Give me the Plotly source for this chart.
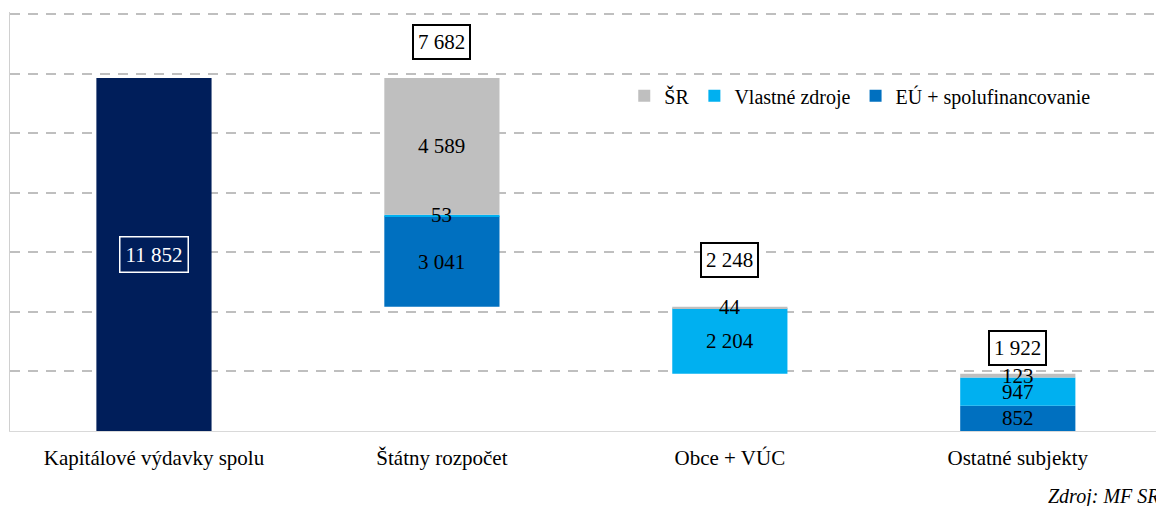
import plotly.graph_objects as go

# ---- data ----
categories = ["Kapitálové výdavky spolu", "Štátny rozpočet", "Obce + VÚC", "Ostatné subjekty"]
spolu = [11852, 0, 0, 0]          # Kapitálové výdavky spolu
eu = [0, 3041, 0, 852]            # EÚ + spolufinancovanie
vlastne = [0, 53, 2204, 947]      # Vlastné zdroje
sr = [0, 4589, 44, 123]           # ŠR
totals = [11852, 7682, 2248, 1922]

# ---- style ----
FONT = "Liberation Serif"
C_NAVY = "#001E5A"
C_SR = "#BFBFBF"
C_VL = "#00B0F0"
C_EU = "#0070C0"
NUM_SIZE = 21
total_yshift = [None, 36, 47, 26]   # px offsets of boxed totals above bar tops

def fmt(v):
    return f"{v:,}".replace(",", " ")

# waterfall bases
bases = [0]
running = totals[0]
for t in totals[1:]:
    running -= t
    bases.append(running)

base_eu = bases
base_vl = [b + e for b, e in zip(base_eu, eu)]
base_sr = [b + v for b, v in zip(base_vl, vlastne)]

fig = go.Figure()
fig.add_trace(go.Bar(x=categories, y=spolu, marker_color=C_NAVY, showlegend=False,
                     name="Kapitálové výdavky spolu", marker_line_width=0))
fig.add_trace(go.Bar(x=categories, y=eu, base=base_eu, marker_color=C_EU,
                     name="EÚ + spolufinancovanie", legendrank=3, marker_line_width=0))
fig.add_trace(go.Bar(x=categories, y=vlastne, base=base_vl, marker_color=C_VL,
                     name="Vlastné zdroje", legendrank=2, marker_line_width=0))
fig.add_trace(go.Bar(x=categories, y=sr, base=base_sr, marker_color=C_SR,
                     name="ŠR", legendrank=1, marker_line_width=0))

annotations = []
# segment labels
for vals, bs in ((eu, base_eu), (vlastne, base_vl), (sr, base_sr)):
    for c, v, b in zip(categories, vals, bs):
        if v:
            annotations.append(dict(x=c, y=b + v / 2, text=fmt(v), showarrow=False,
                                    font=dict(family=FONT, size=NUM_SIZE, color="black")))
# total of first bar (inside, white box)
annotations.append(dict(x=categories[0], y=spolu[0] / 2, text=fmt(totals[0]), showarrow=False,
                        font=dict(family=FONT, size=NUM_SIZE, color="white"),
                        bordercolor="white", borderwidth=1.5, borderpad=5))
# boxed totals above the other bars
for i in range(1, len(categories)):
    top = bases[i] + totals[i]
    annotations.append(dict(x=categories[i], y=top, text=fmt(totals[i]), showarrow=False,
                            yshift=total_yshift[i],
                            font=dict(family=FONT, size=NUM_SIZE, color="black"),
                            bordercolor="black", borderwidth=2, borderpad=4, bgcolor="white"))
# source
annotations.append(dict(xref="paper", yref="paper", x=(1046 - 10) / 1146, y=-(496 - 431) / 419,
                        xanchor="left", yanchor="middle", text="<i>Zdroj: MF SR</i>",
                        showarrow=False, font=dict(family=FONT, size=20, color="black")))

fig.update_layout(
    width=1156, height=506,
    margin=dict(l=10, r=0, t=12, b=75, autoexpand=False),
    paper_bgcolor="white", plot_bgcolor="white",
    barmode="overlay", bargap=0.6,
    font=dict(family=FONT, size=21, color="black"),
    showlegend=True,
    legend=dict(orientation="h", x=0.536, xanchor="left", y=0.80, yanchor="middle",
                font=dict(family=FONT, size=20, color="black"), bgcolor="rgba(0,0,0,0)",
                itemwidth=30, traceorder="normal"),
    annotations=annotations,
)
fig.update_xaxes(range=[-0.5, 3.48], showline=True, linecolor="#D9D9D9", linewidth=1,
                 showgrid=False, ticks="", ticklabelstandoff=8,
                 tickfont=dict(family=FONT, size=21, color="black"))
fig.update_yaxes(range=[0, 14070], tick0=0, dtick=2000, showticklabels=False, showgrid=True,
                 gridcolor="#BFBFBF", gridwidth=2, griddash="10px,8px",
                 zeroline=False, showline=True, linecolor="#D0D0D0", linewidth=1, ticks="")

fig.write_html("out.html", config={"displayModeBar": False},
               post_script="document.body.style.margin='0';document.body.style.overflow='hidden';")
